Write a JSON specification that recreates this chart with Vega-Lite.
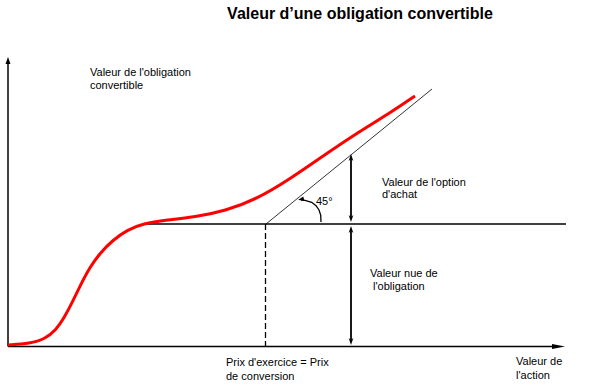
{
  "$schema": "https://vega.github.io/schema/vega-lite/v6.json",
  "width": 604,
  "height": 390,
  "autosize": {"type": "fit", "contains": "padding"},
  "padding": 0,
  "background": "white",
  "config": {"view": {"stroke": null}},
  "datasets": {
    "axes": [
      {"id": "y", "o": 0, "x": 8, "y": 43.5},
      {"id": "y", "o": 1, "x": 8, "y": 329},
      {"id": "x", "o": 0, "x": 8, "y": 43.5},
      {"id": "x", "o": 1, "x": 556, "y": 43.5}
    ],
    "hline": [
      {"id": "h", "o": 0, "x": 143, "y": 166},
      {"id": "h", "o": 1, "x": 566, "y": 166}
    ],
    "diag": [
      {"id": "d", "o": 0, "x": 266, "y": 166},
      {"id": "d", "o": 1, "x": 432, "y": 301}
    ],
    "dashed": [
      {"id": "v", "o": 0, "x": 265.5, "y": 166},
      {"id": "v", "o": 1, "x": 265.5, "y": 44}
    ],
    "dbl": [
      {"id": "a", "o": 0, "x": 351, "y": 233},
      {"id": "a", "o": 1, "x": 351, "y": 171},
      {"id": "b", "o": 0, "x": 351, "y": 161},
      {"id": "b", "o": 1, "x": 351, "y": 48}
    ],
    "curve": [
      {"x": 8, "y": 45},
      {"x": 30, "y": 46.5},
      {"x": 45, "y": 51},
      {"x": 56, "y": 60},
      {"x": 64, "y": 72},
      {"x": 72, "y": 87},
      {"x": 80, "y": 104},
      {"x": 90, "y": 123},
      {"x": 100, "y": 137},
      {"x": 113, "y": 150},
      {"x": 127, "y": 160},
      {"x": 143, "y": 166.5},
      {"x": 167, "y": 170},
      {"x": 195, "y": 173},
      {"x": 225, "y": 179},
      {"x": 257, "y": 191},
      {"x": 290, "y": 211},
      {"x": 323, "y": 234},
      {"x": 357, "y": 257},
      {"x": 390, "y": 277},
      {"x": 415, "y": 294}
    ],
    "arc": [
      {"o": 0, "x": 321, "y": 168},
      {"o": 1, "x": 320.7, "y": 175},
      {"o": 2, "x": 319, "y": 180},
      {"o": 3, "x": 316, "y": 184.3},
      {"o": 4, "x": 311.7, "y": 187.7},
      {"o": 5, "x": 305, "y": 189.7},
      {"o": 6, "x": 301, "y": 190}
    ],
    "headUp": [
      {"x": 351, "y": 236},
      {"x": 351, "y": 164}
    ],
    "headDown": [
      {"x": 351, "y": 168},
      {"x": 351, "y": 45}
    ],
    "headY": [{"x": 8, "y": 333}],
    "headX": [{"x": 565, "y": 43.5}],
    "headArc": [{"x": 298, "y": 190}],
    "labels": [
      {"t": "Valeur de l'obligation", "x": 90, "y": 317},
      {"t": "convertible", "x": 90, "y": 304},
      {"t": "Valeur de l'option", "x": 382, "y": 207},
      {"t": "d'achat", "x": 382, "y": 195},
      {"t": "45°", "x": 316, "y": 188},
      {"t": "Valeur nue de", "x": 370, "y": 116},
      {"t": "l'obligation", "x": 373, "y": 103},
      {"t": "Prix d'exercice = Prix", "x": 226, "y": 27},
      {"t": "de conversion", "x": 226, "y": 13},
      {"t": "Valeur de", "x": 516, "y": 28},
      {"t": "l'action", "x": 516, "y": 14}
    ],
    "title": [{"t": "Valeur d’une obligation convertible", "x": 360, "y": 376}]
  },
  "encoding": {
    "x": {"field": "x", "type": "quantitative", "scale": {"domain": [0, 604], "nice": false, "zero": false}, "axis": null},
    "y": {"field": "y", "type": "quantitative", "scale": {"domain": [0, 390], "nice": false, "zero": false}, "axis": null}
  },
  "layer": [
    {
      "data": {"name": "axes"},
      "mark": {"type": "line", "color": "#000000", "strokeWidth": 1.5},
      "encoding": {"detail": {"field": "id"}, "order": {"field": "o"}}
    },
    {
      "data": {"name": "hline"},
      "mark": {"type": "line", "color": "#000000", "strokeWidth": 1.3},
      "encoding": {"order": {"field": "o"}}
    },
    {
      "data": {"name": "diag"},
      "mark": {"type": "line", "color": "#000000", "strokeWidth": 0.8},
      "encoding": {"order": {"field": "o"}}
    },
    {
      "data": {"name": "dashed"},
      "mark": {"type": "line", "color": "#000000", "strokeWidth": 1.3, "strokeDash": [6, 3]},
      "encoding": {"order": {"field": "o"}}
    },
    {
      "data": {"name": "dbl"},
      "mark": {"type": "line", "color": "#000000", "strokeWidth": 1.8},
      "encoding": {"detail": {"field": "id"}, "order": {"field": "o"}}
    },
    {
      "data": {"name": "arc"},
      "mark": {"type": "line", "color": "#000000", "strokeWidth": 1.3, "interpolate": "linear"},
      "encoding": {"order": {"field": "o"}}
    },
    {
      "data": {"name": "curve"},
      "mark": {"type": "line", "color": "#ff0000", "strokeWidth": 3, "interpolate": "basis"}
    },
    {
      "data": {"name": "headUp"},
      "mark": {"type": "point", "shape": "M0,0L0.6,1.8L0,1.3L-0.6,1.8Z", "size": 61, "filled": true, "color": "#000000", "opacity": 1, "strokeWidth": 0}
    },
    {
      "data": {"name": "headDown"},
      "mark": {"type": "point", "shape": "M0,0L0.6,1.8L0,1.3L-0.6,1.8Z", "size": 61, "angle": 180, "filled": true, "color": "#000000", "opacity": 1, "strokeWidth": 0}
    },
    {
      "data": {"name": "headY"},
      "mark": {"type": "point", "shape": "M0,0L0.7,2L-0.7,2Z", "size": 49, "filled": true, "color": "#000000", "opacity": 1, "strokeWidth": 0}
    },
    {
      "data": {"name": "headX"},
      "mark": {"type": "point", "shape": "M0,0L0.38,2L-0.38,2Z", "size": 169, "angle": 90, "filled": true, "color": "#000000", "opacity": 1, "strokeWidth": 0}
    },
    {
      "data": {"name": "headArc"},
      "mark": {"type": "point", "shape": "M0,0L0.7,2L-0.7,2Z", "size": 36, "angle": 255, "filled": true, "color": "#000000", "opacity": 1, "strokeWidth": 0}
    },
    {
      "data": {"name": "labels"},
      "mark": {"type": "text", "align": "left", "baseline": "middle", "font": "Liberation Sans", "fontSize": 11, "color": "#000000"},
      "encoding": {"text": {"field": "t"}}
    },
    {
      "data": {"name": "title"},
      "mark": {"type": "text", "align": "center", "baseline": "middle", "font": "Liberation Sans", "fontSize": 16, "fontWeight": "bold", "color": "#000000"},
      "encoding": {"text": {"field": "t"}}
    }
  ]
}
